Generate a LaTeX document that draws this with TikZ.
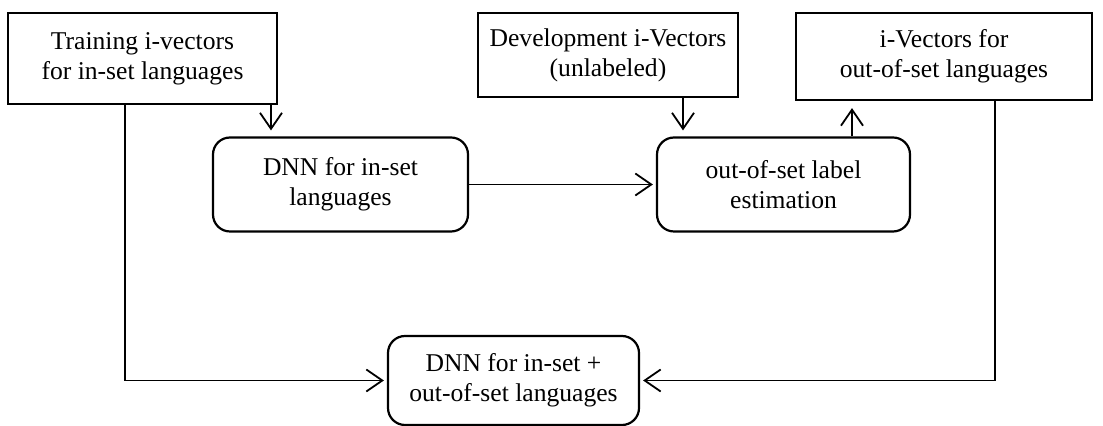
\documentclass[tikz,border=0pt]{standalone}
\usepackage{fontspec}
\setmainfont{Liberation Serif}
\usetikzlibrary{positioning,arrows.meta}

\begin{document}
\begin{tikzpicture}[x=0.5pt, y=-0.5pt,
    every node/.style={font=\fontsize{12.8}{15}\selectfont, align=center, inner sep=0pt},
    databox/.style={draw, line width=1.1pt, minimum height=45.5pt},
    procbox/.style={draw, line width=1.1pt, rounded corners=8.5pt, minimum height=47pt},
    arr/.style={line width=0.9pt, -{Straight Barb[length=8pt, width=11pt, line width=0.9pt]}},
    ]
      \useasboundingbox (0,0) rectangle (1103,426);
      \node(train) [databox, minimum width=134.5pt] at (142.5,58.5) {Training i-vectors\\for in-set languages};
      \node(dev) [databox, minimum width=130pt, minimum height=42pt] at (608,55) {Development i-Vectors\\(unlabeled)};
      \node(oosvec) [databox, minimum width=148pt, minimum height=43.5pt] at (944,56.5) {i-Vectors for\\out-of-set languages};
      \node(dnnin) [procbox, minimum width=127.5pt] at (340.5,184.5) {DNN for in-set\\languages};
      \node(oosest) [procbox, minimum width=126.5pt] at (783.5,184.5) {out-of-set label\\estimation};
      \node(dnnall) [procbox, minimum width=125.5pt, minimum height=44.5pt] at (513.5,380.5) {DNN for in-set +\\out-of-set languages};

      \draw[arr, shorten >=3pt] ([xshift=64.25pt]train.south) -- ([xshift=64.25pt]train.south |- dnnin.north);
      \draw[arr, shorten >=3pt] ([xshift=37.5pt]dev.south) -- ([xshift=37.5pt]dev.south |- oosest.north);
      \draw[arr, shorten >=3.5pt] ([xshift=34.25pt]oosest.north) -- ([xshift=34.25pt]oosest.north |- oosvec.south);
      \draw[arr, shorten >=1.5pt] (dnnin) -- (oosest);
      \draw[arr, shorten >=1.5pt] ([xshift=-8.75pt]train.south) |- (dnnall.west);
      \draw[arr, shorten >=1.5pt] ([xshift=25.5pt]oosvec.south) |- (dnnall.east);
\end{tikzpicture}
\end{document}
